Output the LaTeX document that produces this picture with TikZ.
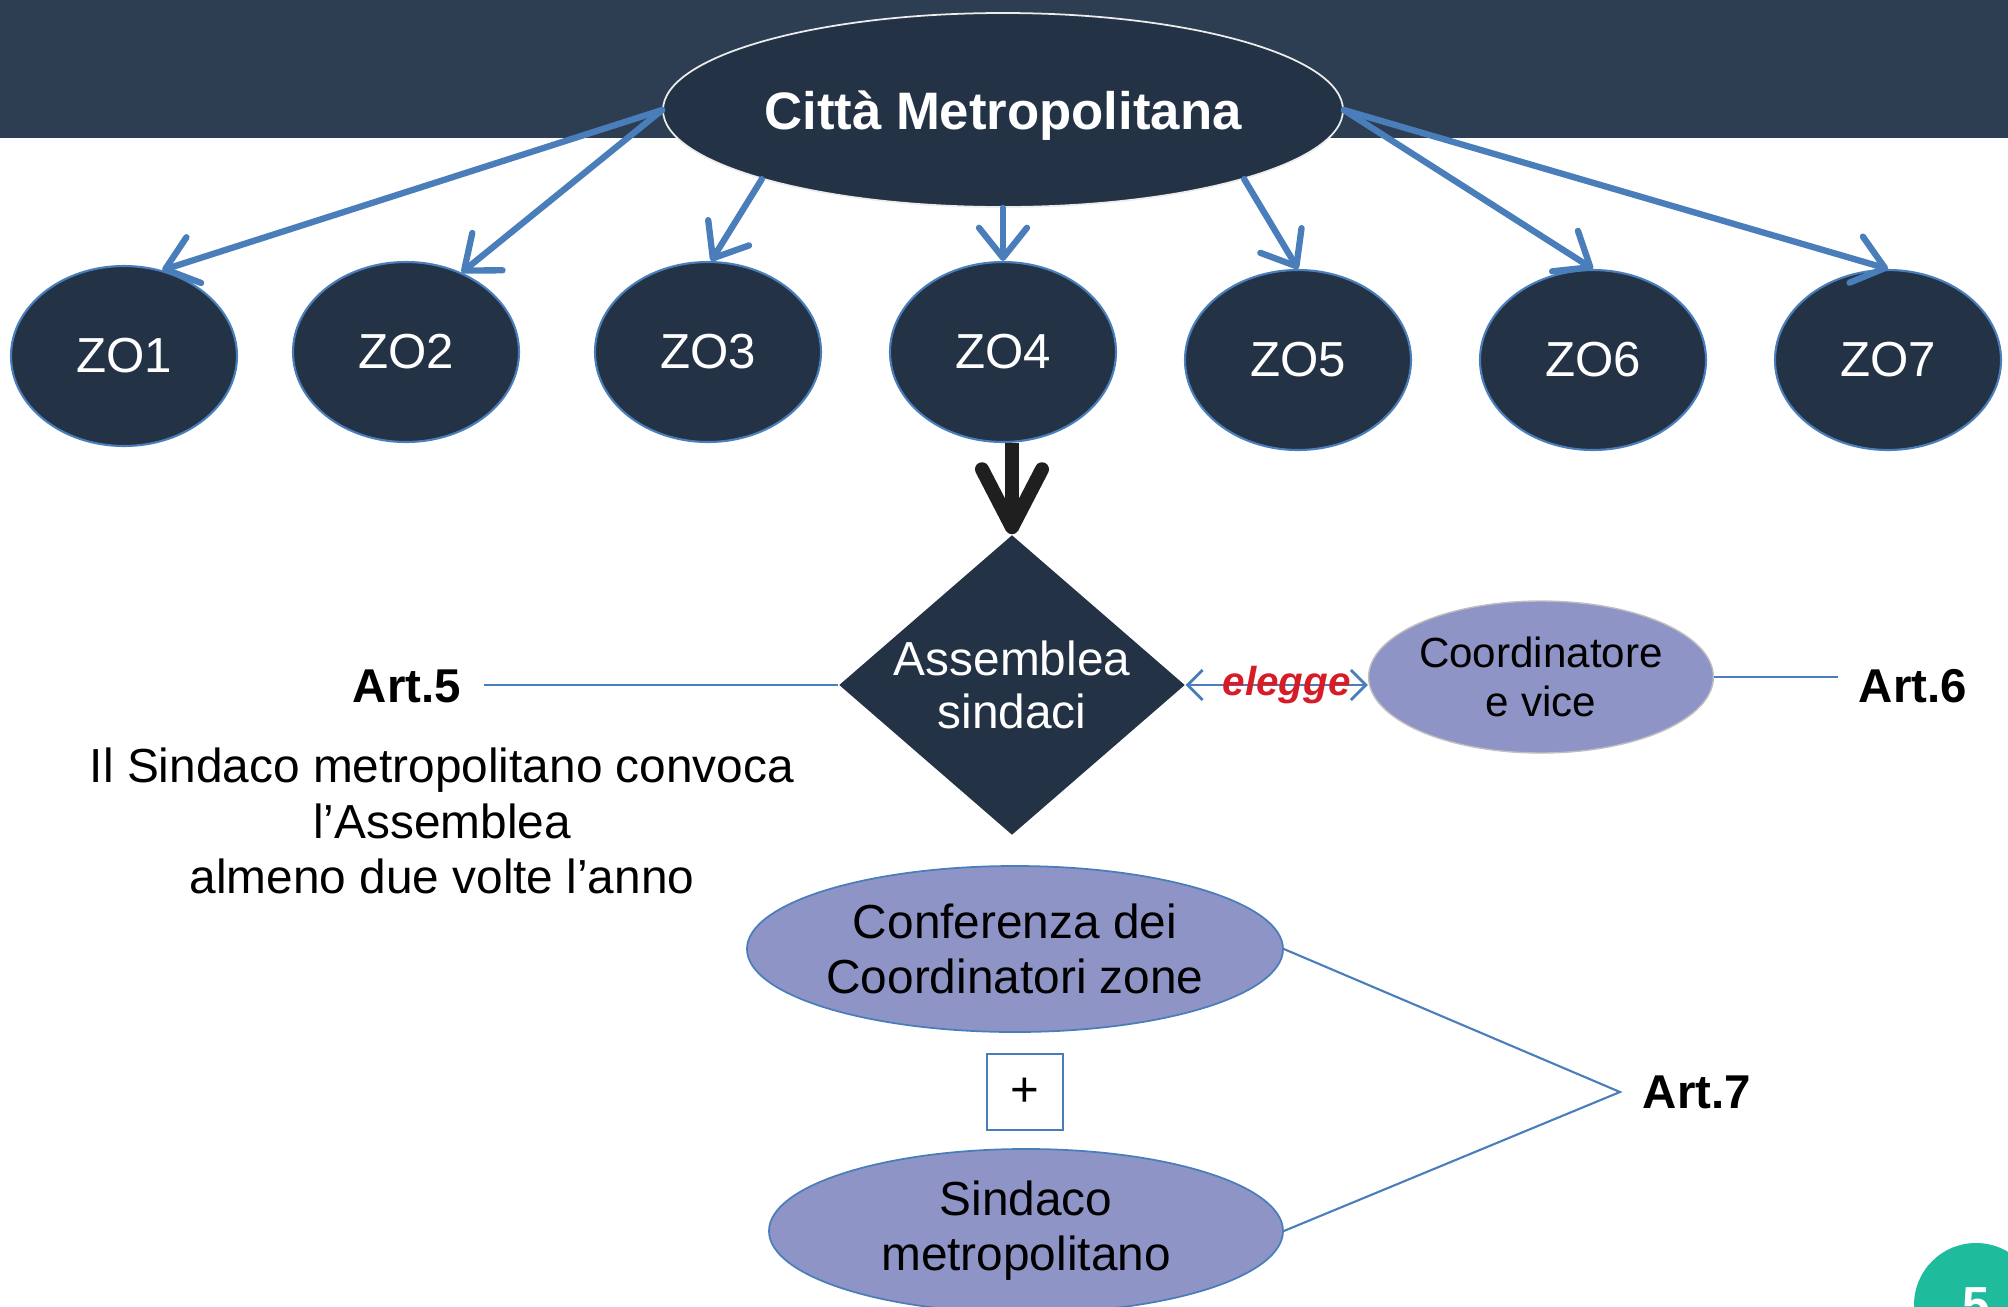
\documentclass[tikz,border=0pt]{standalone}
\usepackage{fontspec}
\setmainfont{Liberation Sans}
\usetikzlibrary{shapes.geometric,arrows.meta}

\definecolor{bandnavy}{RGB}{46,62,82}
\definecolor{darknavy}{RGB}{35,51,69}
\definecolor{lilac}{RGB}{143,148,198}
\definecolor{linkblue}{RGB}{74,126,187}
\definecolor{pageteal}{RGB}{30,188,156}
\definecolor{eleggered}{RGB}{214,28,38}

\begin{document}
\begin{tikzpicture}

\tikzset{
    zona/.style={ellipse, draw=linkblue, line width=0.6pt, fill=darknavy, text=white, inner sep=0pt, minimum width=2.26cm, minimum height=1.80cm, font=\fontsize{14}{16}\selectfont},
    organo/.style={ellipse, fill=lilac, inner sep=0pt, align=center, font=\fontsize{13.6}{15.7}\selectfont},
    ramo/.style={draw=linkblue, line width=1.8pt, line cap=round, -{Straight Barb[length=3mm,width=4.8mm,round]}},
    filo/.style={draw=linkblue, line width=0.6pt},
    articolo/.style={font=\bfseries\fontsize{13.5}{16}\selectfont}
}

\useasboundingbox (0,0) rectangle (20.08,-13.07);
\clip (0,0) rectangle (20.08,-13.07);
\fill[bandnavy] (0,0) rectangle (20.08,-1.38);

\node[ellipse, draw=white!85!gray, line width=0.5pt, fill=darknavy, text=white, minimum width=6.8cm, minimum height=1.94cm, inner sep=0pt, text depth=0pt, font=\bfseries\fontsize{15}{18}\selectfont] (citta) at (10.03,-1.10) {Città Metropolitana};

\node[zona] (zo1) at (1.24,-3.56) {ZO1};
\node[zona] (zo2) at (4.06,-3.52) {ZO2};
\node[zona] (zo3) at (7.08,-3.52) {ZO3};
\node[zona] (zo4) at (10.03,-3.52) {ZO4};
\node[zona] (zo5) at (12.98,-3.60) {ZO5};
\node[zona] (zo6) at (15.93,-3.60) {ZO6};
\node[zona] (zo7) at (18.88,-3.60) {ZO7};

\draw[ramo] (citta.west) -- (zo1.66);
\draw[ramo] (citta.west) -- (zo2.55);
\draw[ramo] (citta.196) -- (zo3.88);
\draw[ramo] (citta.south) -- (zo4.north);
\draw[ramo] (citta.344) -- (zo5.north);
\draw[ramo] (citta.east) -- (zo6.north);
\draw[ramo] (citta.east) -- (zo7.north);

\node[diamond, fill=darknavy, minimum width=3.46cm, minimum height=3cm, inner sep=0pt] (asse) at (10.12,-6.85) {};
\node[text=white, align=center, font=\fontsize{13.6}{15.3}\selectfont] (assetxt) at (asse) {Assemblea\\sindaci};
\draw[line width=4pt, color=black!88, -{Straight Barb[length=5.8mm,width=6mm,round]}] (asse.north |- zo4.south) -- (asse.north);

\node[organo, draw=gray!50, line width=0.4pt, minimum width=3.32cm, minimum height=1.52cm, font=\fontsize{12}{13.8}\selectfont] (coord) at (15.41,-6.77) {Coordinatore\\e vice};
\draw[linkblue, line width=0.8pt, {Straight Barb[length=1.5mm,width=3mm]}-{Straight Barb[length=1.5mm,width=3mm]}] (asse.east) -- (asse.east -| coord.west)
    node[midway, xshift=1mm, text=eleggered, font=\bfseries\itshape\fontsize{11.5}{13}\selectfont] (elegge) {elegge};

\node[articolo] (art5) at (4.07,-6.86) {Art.5};
\coordinate (art5line) at (4.84,-6.85);
\draw[filo] (art5line) -- (asse.west);

\node[articolo] (art6) at (19.13,-6.86) {Art.6};
\coordinate (art6line) at (18.38,-6.77);
\draw[filo] (coord.east) -- (art6line);

\node[align=center, font=\fontsize{13.6}{15.8}\selectfont] (nota) at (4.42,-8.21) {Il Sindaco metropolitano convoca\\l’Assemblea\\almeno due volte l’anno};

\node[organo, draw=linkblue, line width=0.5pt, minimum width=5.36cm, minimum height=1.66cm] (conf) at (10.15,-9.49) {Conferenza dei\\Coordinatori zone};
\node[draw=linkblue, line width=0.5pt, minimum size=0.76cm, inner sep=0pt, font=\fontsize{14}{16}\selectfont] (piu) at (10.25,-10.92) {+};
\node[organo, draw=linkblue, line width=0.5pt, minimum width=5.14cm, minimum height=1.64cm] (sind) at (10.26,-12.31) {Sindaco\\metropolitano};

\node[articolo] (art7) at (16.97,-10.92) {Art.7};
\coordinate (art7v) at (16.20,-10.92);
\draw[filo] (conf.east) -- (art7v) -- (sind.east);

\node[circle, fill=pageteal, minimum size=1.24cm, inner sep=0pt, text=white, font=\bfseries\fontsize{14}{16}\selectfont] (pagina) at (19.76,-13.05) {5};

\end{tikzpicture}
\end{document}
